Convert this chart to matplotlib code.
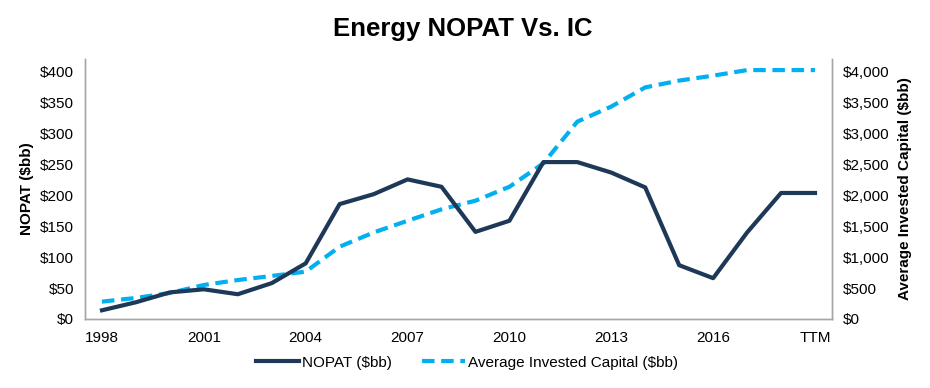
import numpy as np
import matplotlib
matplotlib.use("Agg")
import matplotlib.pyplot as plt
from matplotlib.ticker import FuncFormatter

plt.rcParams['font.family'] = ['Liberation Sans', 'DejaVu Sans']

#######################################################
years = [str(y) for y in range(1998, 2019)] + ["TTM"]
nopat = [14, 27, 43, 48, 40, 58, 90, 186, 202, 226, 214,
         141, 159, 254, 254, 237, 213, 87, 66, 140, 204, 204]
invested_capital = [280, 340, 420, 550, 630, 696, 766, 1170, 1400, 1590, 1775,
                    1915, 2140, 2520, 3195, 3440, 3750, 3860, 3940, 4030, 4030, 4030]
tick_labels = ["1998", "2001", "2004", "2007", "2010", "2013", "2016", "TTM"]
#######################################################

navy = "#1E3857"
sky = "#00B0F0"
grey = "#A6A6A6"

x = np.arange(len(years))

fig = plt.figure(figsize=(9.3, 3.88), dpi=100)
ax = fig.add_axes([0.0914, 0.178, 0.8032, 0.67])
ax2 = ax.twinx()

l1, = ax.plot(x, nopat, color=navy, linewidth=3.0, label="NOPAT ($bb)", zorder=3)
l2, = ax2.plot(x, invested_capital, color=sky, linewidth=3.0, linestyle=(0, (3, 1.6)),
               label="Average Invested Capital ($bb)", zorder=2)
ax.set_zorder(ax2.get_zorder() + 1)
ax.patch.set_visible(False)

ax.set_xlim(-0.5, len(years) - 0.5)
ax.set_ylim(0, 421)
ax2.set_ylim(0, 4210)
ax.set_yticks(np.arange(0, 401, 50))
ax2.set_yticks(np.arange(0, 4001, 500))
ax.yaxis.set_major_formatter(FuncFormatter(lambda v, p: "${:,.0f}".format(v)))
ax2.yaxis.set_major_formatter(FuncFormatter(lambda v, p: "${:,.0f}".format(v)))

tick_pos = [years.index(t) for t in tick_labels]
ax.set_xticks(tick_pos)
ax.set_xticklabels(tick_labels)

for a in (ax, ax2):
    a.tick_params(axis="both", length=0, labelsize=11, colors="black", pad=8)
    a.spines["top"].set_visible(False)
    for s in ("left", "right", "bottom"):
        a.spines[s].set_color(grey)
        a.spines[s].set_linewidth(1.0)
ax.tick_params(axis="x", pad=9)

ax.set_ylabel("NOPAT ($bb)", fontsize=11, fontweight="bold", labelpad=4)
ax2.set_ylabel("Average Invested Capital ($bb)", fontsize=11, fontweight="bold", labelpad=6)

fig.suptitle("Energy NOPAT Vs. IC", fontsize=18.5, fontweight="bold", x=0.498, y=0.955)

fig.legend(handles=[l1, l2], loc="center", bbox_to_anchor=(0.502, 0.065), ncol=2,
           frameon=False, fontsize=11, handlelength=2.8, columnspacing=2.0, handletextpad=0.2)

fig.savefig("out.png", dpi=100)
